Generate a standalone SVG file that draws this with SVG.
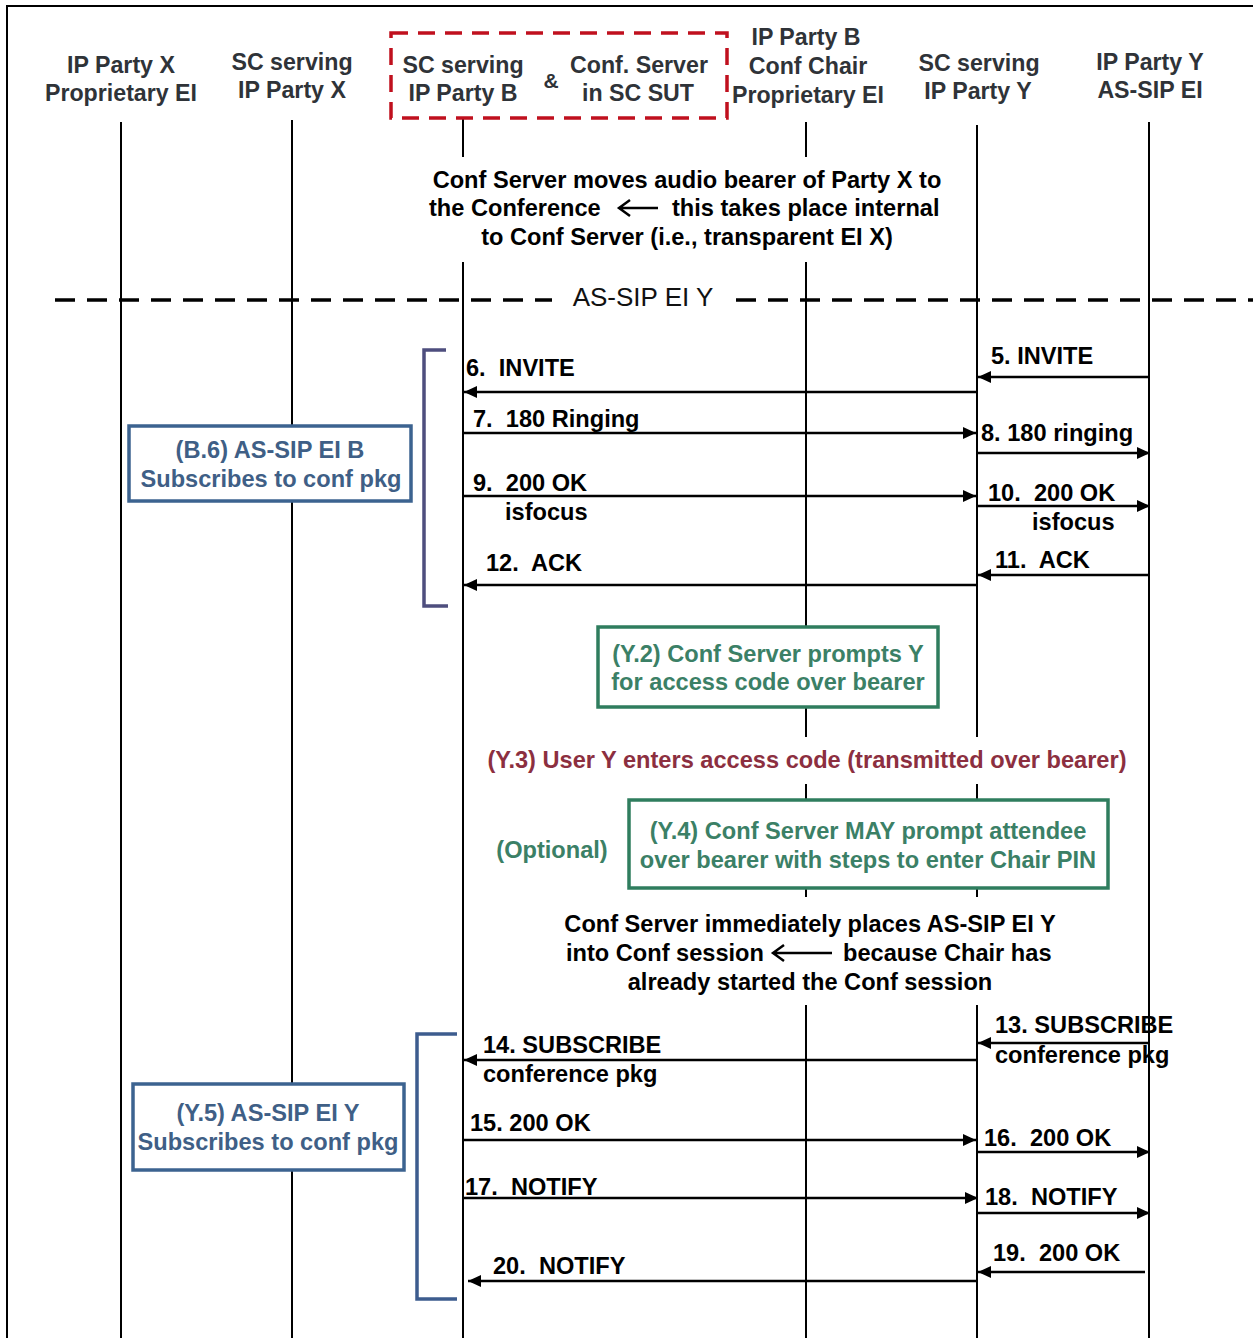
<svg xmlns="http://www.w3.org/2000/svg" width="1253" height="1338" viewBox="0 0 1253 1338">
<defs>
<marker id="ah" markerUnits="userSpaceOnUse" markerWidth="14" markerHeight="12" refX="13" refY="6" orient="auto">
<path d="M0,0 L13,6 L0,12 z" fill="#000"/>
</marker>
<style>
text{font-family:"Liberation Sans",Arial,sans-serif;font-weight:bold;font-size:23.6px}
.hd{fill:#2f3338;text-anchor:middle;font-size:23.2px}
.lbl{fill:#000}
.ctr{fill:#000;text-anchor:middle}
.life{stroke:#000;stroke-width:2;fill:none}
.msg{stroke:#000;stroke-width:2.5;fill:none;marker-end:url(#ah)}
.bluebox{fill:#fff;stroke:#3c6390;stroke-width:3.5}
.bluetx{fill:#3f5f86;text-anchor:middle}
.grnbox{fill:#fff;stroke:#2f7d5e;stroke-width:3.5}
.grntx{fill:#3b8066;text-anchor:middle}
</style>
</defs>
<rect width="1253" height="1338" fill="#fff"/>
<path d="M7,1338 V6 H1253" stroke="#000" stroke-width="2" fill="none"/>

<g id="lifelines">
<line class="life" x1="121" y1="122" x2="121" y2="1338"/>
<line class="life" x1="292" y1="120" x2="292" y2="1338"/>
<path class="life" d="M463,118 V157 M463,262 V1338"/>
<path class="life" d="M806,122 V157 M806,262 V737 M806,784 V897 M806,1005 V1338"/>
<path class="life" d="M977,125 V737 M977,784 V897 M977,1005 V1338"/>
<line class="life" x1="1149" y1="122" x2="1149" y2="1338"/>
</g>

<g id="header-x">
<text class="hd" x="121" y="73">IP Party X</text>
<text class="hd" x="121" y="101">Proprietary EI</text>
</g>
<g id="header-scx">
<text class="hd" x="292" y="70">SC serving</text>
<text class="hd" x="292" y="98">IP Party X</text>
</g>
<g id="header-sut">
<rect x="391" y="33" width="336" height="85" fill="none" stroke="#c0101e" stroke-width="3.5" stroke-dasharray="17,10"/>
<text class="hd" x="463" y="73">SC serving</text>
<text class="hd" x="463" y="101">IP Party B</text>
<text class="hd" x="551" y="88" style="font-size:21px">&amp;</text>
<text class="hd" x="639" y="73">Conf. Server</text>
<text class="hd" x="638" y="101">in SC SUT</text>
</g>
<g id="header-b">
<text class="hd" x="806" y="45">IP Party B</text>
<text class="hd" x="808" y="74">Conf Chair</text>
<text class="hd" x="808" y="103">Proprietary EI</text>
</g>
<g id="header-scy">
<text class="hd" x="979" y="71">SC serving</text>
<text class="hd" x="978" y="99">IP Party Y</text>
</g>
<g id="header-y">
<text class="hd" x="1150" y="70">IP Party Y</text>
<text class="hd" x="1150" y="98">AS-SIP EI</text>
</g>

<g id="note-move">
<text class="ctr" x="687" y="188">Conf Server moves audio bearer of Party X to</text>
<text class="lbl" x="429" y="216">the Conference</text>
<path d="M658,208 H619 M630,200 L619,208 L630,216" stroke="#000" stroke-width="2.5" fill="none"/>
<text class="lbl" x="672" y="216">this takes place internal</text>
<text class="ctr" x="687" y="245">to Conf Server (i.e., transparent EI X)</text>
</g>

<g id="separator">
<line x1="55" y1="300" x2="552" y2="300" stroke="#000" stroke-width="3.5" stroke-dasharray="20,12"/>
<line x1="736" y1="300" x2="1253" y2="300" stroke="#000" stroke-width="3.5" stroke-dasharray="20,12"/>
<text x="643" y="306" style="font-weight:normal;font-size:26px;text-anchor:middle;fill:#111">AS-SIP EI Y</text>
</g>

<g id="brackets">
<path d="M446,350 H424 V606 H448" stroke="#4e4e7e" stroke-width="3.5" fill="none"/>
<path d="M457,1034 H417 V1299 H457" stroke="#3d5c8e" stroke-width="3.5" fill="none"/>
</g>

<g id="box-b6">
<rect class="bluebox" x="129" y="426" width="282" height="75"/>
<text class="bluetx" x="270" y="458">(B.6) AS-SIP EI B</text>
<text class="bluetx" x="271" y="487">Subscribes to conf pkg</text>
</g>
<g id="box-y5">
<rect class="bluebox" x="133" y="1084" width="271" height="86"/>
<text class="bluetx" x="268" y="1121">(Y.5) AS-SIP EI Y</text>
<text class="bluetx" x="268" y="1150">Subscribes to conf pkg</text>
</g>
<g id="box-y2">
<rect class="grnbox" x="598" y="627" width="340" height="80"/>
<text class="grntx" x="768" y="662">(Y.2) Conf Server prompts Y</text>
<text class="grntx" x="768" y="690">for access code over bearer</text>
</g>
<g id="note-y3">
<text x="807" y="768" style="text-anchor:middle;fill:#8c2f40">(Y.3) User Y enters access code (transmitted over bearer)</text>
</g>
<g id="box-y4">
<rect class="grnbox" x="629" y="800" width="479" height="88"/>
<text class="grntx" x="868" y="839">(Y.4) Conf Server MAY prompt attendee</text>
<text class="grntx" x="868" y="868">over bearer with steps to enter Chair PIN</text>
<text class="grntx" x="552" y="858">(Optional)</text>
</g>
<g id="note-place">
<text class="ctr" x="810" y="932">Conf Server immediately places AS-SIP EI Y</text>
<text class="lbl" x="566" y="961">into Conf session</text>
<path d="M832,953 H773 M784,945 L773,953 L784,961" stroke="#000" stroke-width="2.5" fill="none"/>
<text class="lbl" x="843" y="961">because Chair has</text>
<text class="ctr" x="810" y="990">already started the Conf session</text>
</g>

<g id="connectors">
<line class="msg" x1="1149" y1="377" x2="978" y2="377"/>
<line class="msg" x1="977" y1="392" x2="464" y2="392"/>
<line class="msg" x1="463" y1="433" x2="976" y2="433"/>
<line class="msg" x1="977" y1="453" x2="1150" y2="453"/>
<line class="msg" x1="463" y1="496" x2="976" y2="496"/>
<line class="msg" x1="977" y1="506" x2="1150" y2="506"/>
<line class="msg" x1="1149" y1="575" x2="978" y2="575"/>
<line class="msg" x1="977" y1="585" x2="464" y2="585"/>
<line class="msg" x1="1149" y1="1043" x2="978" y2="1043"/>
<line class="msg" x1="977" y1="1060" x2="464" y2="1060"/>
<line class="msg" x1="463" y1="1140" x2="976" y2="1140"/>
<line class="msg" x1="977" y1="1152" x2="1150" y2="1152"/>
<line class="msg" x1="463" y1="1198" x2="978" y2="1198"/>
<line class="msg" x1="977" y1="1213" x2="1150" y2="1213"/>
<line class="msg" x1="1145" y1="1272" x2="978" y2="1272"/>
<line class="msg" x1="977" y1="1281" x2="468" y2="1281"/>
</g>

<g id="labels">
<text class="lbl" x="991" y="364">5. INVITE</text>
<text class="lbl" x="466" y="376" xml:space="preserve">6.  INVITE</text>
<text class="lbl" x="473" y="427" xml:space="preserve">7.  180 Ringing</text>
<text class="lbl" x="981" y="441">8. 180 ringing</text>
<text class="lbl" x="473" y="491" xml:space="preserve">9.  200 OK</text>
<text class="lbl" x="505" y="520">isfocus</text>
<text class="lbl" x="988" y="501" xml:space="preserve">10.  200 OK</text>
<text class="lbl" x="1032" y="530">isfocus</text>
<text class="lbl" x="995" y="568" xml:space="preserve">11.  ACK</text>
<text class="lbl" x="486" y="571" xml:space="preserve">12.  ACK</text>
<text class="lbl" x="995" y="1033">13. SUBSCRIBE</text>
<text class="lbl" x="995" y="1063">conference pkg</text>
<text class="lbl" x="483" y="1053">14. SUBSCRIBE</text>
<text class="lbl" x="483" y="1082">conference pkg</text>
<text class="lbl" x="470" y="1131">15. 200 OK</text>
<text class="lbl" x="984" y="1146" xml:space="preserve">16.  200 OK</text>
<text class="lbl" x="465" y="1195" xml:space="preserve">17.  NOTIFY</text>
<text class="lbl" x="985" y="1205" xml:space="preserve">18.  NOTIFY</text>
<text class="lbl" x="993" y="1261" xml:space="preserve">19.  200 OK</text>
<text class="lbl" x="493" y="1274" xml:space="preserve">20.  NOTIFY</text>
</g>
</svg>
